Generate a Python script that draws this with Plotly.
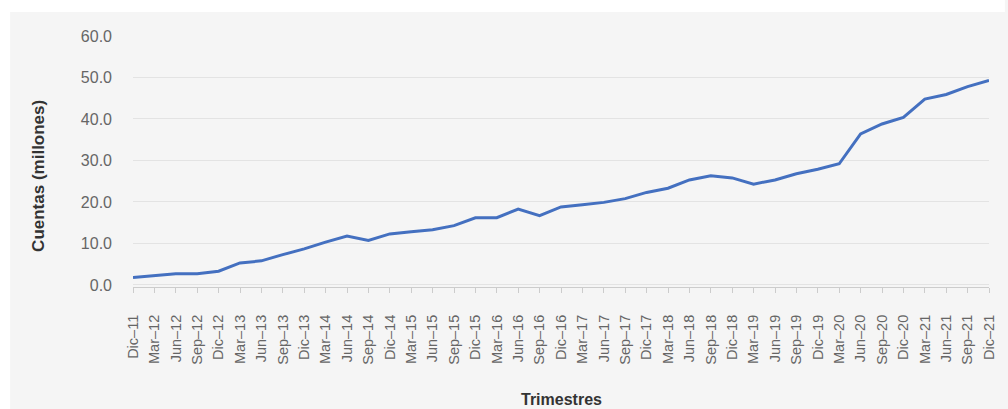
import plotly.graph_objects as go

categories = [
    "Dic–11", "Mar–12", "Jun–12", "Sep–12", "Dic–12", "Mar–13", "Jun–13", "Sep–13",
    "Dic–13", "Mar–14", "Jun–14", "Sep–14", "Dic–14", "Mar–15", "Jun–15", "Sep–15",
    "Dic–15", "Mar–16", "Jun–16", "Sep–16", "Dic–16", "Mar–17", "Jun–17", "Sep–17",
    "Dic–17", "Mar–18", "Jun–18", "Sep–18", "Dic–18", "Mar–19", "Jun–19", "Sep–19",
    "Dic–19", "Mar–20", "Jun–20", "Sep–20", "Dic–20", "Mar–21", "Jun–21", "Sep–21",
    "Dic–21",
]
cuentas = [
    1.8, 2.3, 2.7, 2.7, 3.3, 5.3, 5.8, 7.3,
    8.7, 10.3, 11.8, 10.7, 12.3, 12.8, 13.3, 14.3,
    16.2, 16.2, 18.3, 16.7, 18.8, 19.3, 19.9, 20.8,
    22.3, 23.3, 25.3, 26.3, 25.8, 24.3, 25.3, 26.8,
    27.9, 29.2, 36.4, 38.8, 40.4, 44.8, 45.9, 47.8,
    49.3,
]
y_ticks = [0, 10, 20, 30, 40, 50, 60]

FONT = "Liberation Sans, Arial, sans-serif"
W, H = 1008, 409
L, R, T, B = 133, 11, 36, 122
pw = W - L - R
ph = H - T - B

def px_x(p):
    return (p - L) / pw

def px_y(p):
    return (H - B - p) / ph

fig = go.Figure()
fig.add_trace(go.Scatter(
    x=list(range(len(categories))), y=cuentas, mode="lines",
    line=dict(color="#4470c0", width=3),
    hoverinfo="y",
))

fig.update_layout(
    width=W, height=H,
    margin=dict(l=L, r=R, t=T, b=B),
    paper_bgcolor="#f5f5f5",
    plot_bgcolor="#f5f5f5",
    showlegend=False,
    font=dict(family=FONT),
    xaxis=dict(
        tickmode="array",
        tickvals=list(range(len(categories))),
        ticktext=categories,
        range=[0, len(categories) - 1],
        tickangle=-90,
        tickfont=dict(size=14.5, color="#666666", family=FONT),
        ticks="outside", ticklen=5, tickcolor="#cccccc", tickwidth=1,
        showline=True, linecolor="#cccccc", linewidth=1,
        showgrid=False, zeroline=False,
        ticklabelstandoff=16,
    ),
    yaxis=dict(
        range=[-0.5, 60],
        tickvals=y_ticks,
        tickformat=".1f",
        tickfont=dict(size=16, color="#666666", family=FONT),
        showgrid=True, gridcolor="#e3e3e3", gridwidth=1,
        zeroline=False, showline=False, ticks="",
        ticklabelstandoff=20,
    ),
    shapes=[
        dict(type="rect", xref="paper", yref="paper",
             x0=px_x(-5), x1=px_x(9), y0=px_y(H + 5), y1=px_y(-5),
             fillcolor="white", line=dict(width=0), layer="below"),
        dict(type="rect", xref="paper", yref="paper",
             x0=px_x(-5), x1=px_x(W + 5), y0=px_y(12), y1=px_y(-5),
             fillcolor="white", line=dict(width=0), layer="below"),
    ],
    annotations=[
        dict(text="<b>Cuentas (millones)</b>", textangle=-90,
             xref="paper", yref="paper", x=px_x(37), y=px_y(176),
             xanchor="center", yanchor="middle", showarrow=False,
             font=dict(size=17, color="#333333", family=FONT)),
        dict(text="<b>Trimestres</b>",
             xref="paper", yref="paper", x=px_x(565), y=px_y(399),
             xanchor="center", yanchor="middle", showarrow=False,
             font=dict(size=16, color="#333333", family=FONT)),
    ],
)

fig.write_html("out.html")
